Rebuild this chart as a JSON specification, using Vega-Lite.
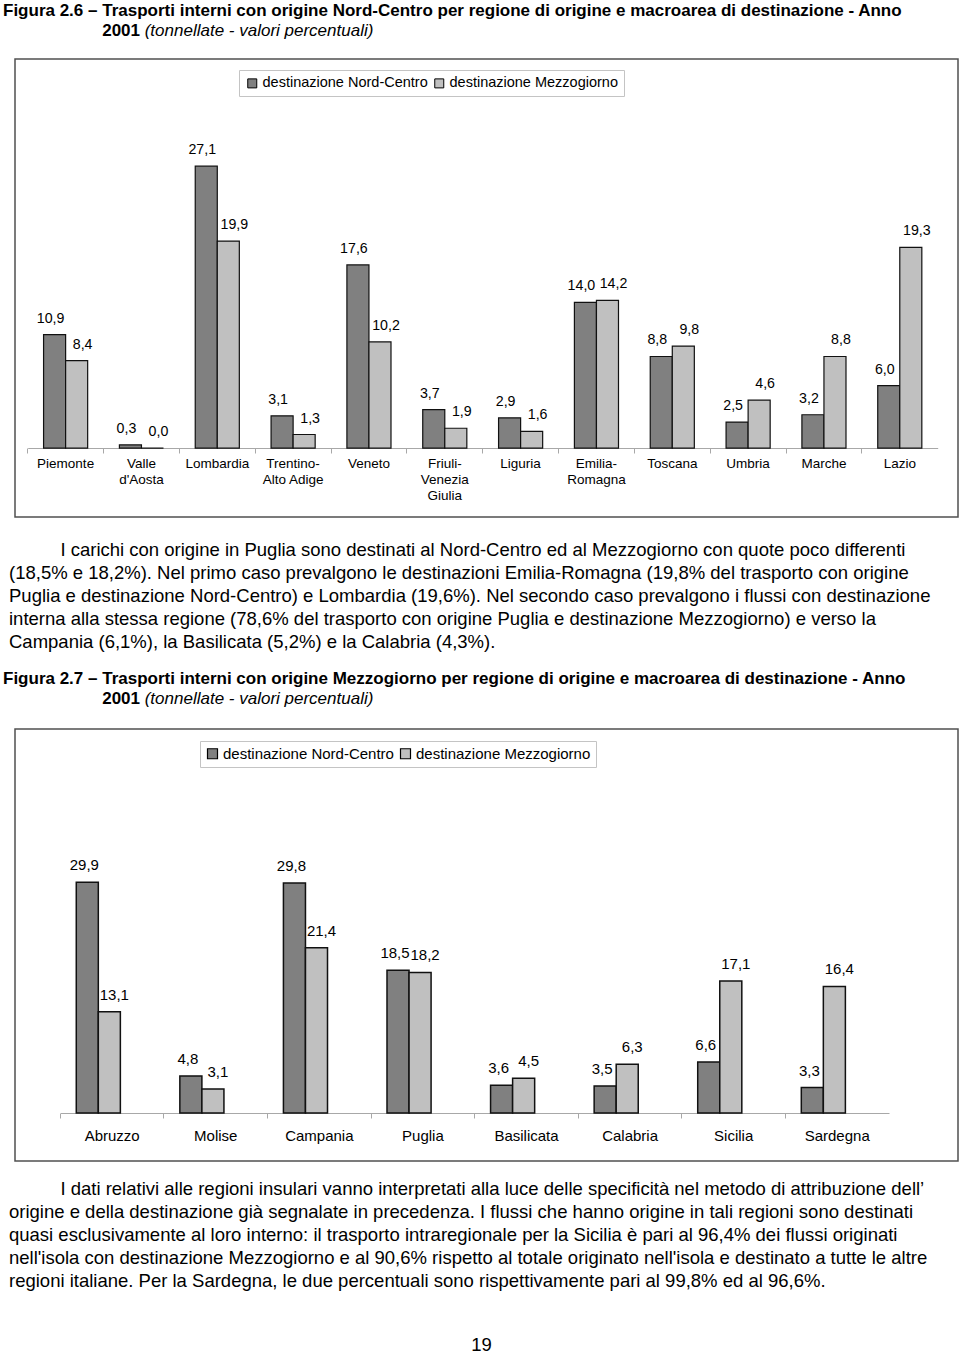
{
  "$schema": "https://vega.github.io/schema/vega-lite/v6.json",
  "background": "white",
  "padding": {"left": 2, "top": 0, "right": 0, "bottom": 0},
  "spacing": 0,
  "resolve": {"scale": {"color": "independent"}, "legend": {"color": "independent"}},
  "config": {
    "font": "Liberation Sans",
    "view": {"stroke": null},
    "locale": {"number": {"decimal": ",", "thousands": ".", "grouping": [3], "currency": ["", " €"]}},
    "title": {"color": "black", "subtitleColor": "black", "anchor": "start"}
  },
  "vconcat": [
    {
      "width": 943,
      "height": 458,
      "view": {"stroke": "#505050", "strokeWidth": 1.5},
      "title": {
        "text": ["Figura 2.6 – Trasporti interni con origine Nord-Centro per regione di origine e macroarea di destinazione - Anno", "\u200b\u00a0\u00a0\u00a0\u00a0\u00a0\u00a0\u00a0\u00a0\u00a0\u00a0\u00a0\u00a0\u00a0\u00a0\u00a0\u00a0\u00a0\u00a0\u00a0\u00a0\u00a02001"],
        "subtitle": "\u200b\u00a0\u00a0\u00a0\u00a0\u00a0\u00a0\u00a0\u00a0\u00a0\u00a0\u00a0\u00a0\u00a0\u00a0\u00a0\u00a0\u00a0\u00a0\u00a0\u00a0\u00a0\u00a0\u00a0\u00a0\u00a0\u00a0\u00a0\u00a0\u00a0\u00a0(tonnellate - valori percentuali)",
        "fontSize": 17, "fontWeight": "bold", "lineHeight": 20.5,
        "subtitleFontSize": 17, "subtitleFontStyle": "italic", "subtitleFontWeight": "normal",
        "subtitlePadding": -17, "dx": -12, "offset": 19
      },
      "data": {"values": [
        {"regione": "Piemonte", "dest": "destinazione Nord-Centro", "v": 10.9},
        {"regione": "Piemonte", "dest": "destinazione Mezzogiorno", "v": 8.4},
        {"regione": "Valle|d'Aosta", "dest": "destinazione Nord-Centro", "v": 0.3},
        {"regione": "Valle|d'Aosta", "dest": "destinazione Mezzogiorno", "v": 0.0},
        {"regione": "Lombardia", "dest": "destinazione Nord-Centro", "v": 27.1},
        {"regione": "Lombardia", "dest": "destinazione Mezzogiorno", "v": 19.9},
        {"regione": "Trentino-|Alto Adige", "dest": "destinazione Nord-Centro", "v": 3.1},
        {"regione": "Trentino-|Alto Adige", "dest": "destinazione Mezzogiorno", "v": 1.3},
        {"regione": "Veneto", "dest": "destinazione Nord-Centro", "v": 17.6},
        {"regione": "Veneto", "dest": "destinazione Mezzogiorno", "v": 10.2},
        {"regione": "Friuli-|Venezia|Giulia", "dest": "destinazione Nord-Centro", "v": 3.7},
        {"regione": "Friuli-|Venezia|Giulia", "dest": "destinazione Mezzogiorno", "v": 1.9},
        {"regione": "Liguria", "dest": "destinazione Nord-Centro", "v": 2.9},
        {"regione": "Liguria", "dest": "destinazione Mezzogiorno", "v": 1.6},
        {"regione": "Emilia-|Romagna", "dest": "destinazione Nord-Centro", "v": 14.0},
        {"regione": "Emilia-|Romagna", "dest": "destinazione Mezzogiorno", "v": 14.2},
        {"regione": "Toscana", "dest": "destinazione Nord-Centro", "v": 8.8},
        {"regione": "Toscana", "dest": "destinazione Mezzogiorno", "v": 9.8},
        {"regione": "Umbria", "dest": "destinazione Nord-Centro", "v": 2.5},
        {"regione": "Umbria", "dest": "destinazione Mezzogiorno", "v": 4.6},
        {"regione": "Marche", "dest": "destinazione Nord-Centro", "v": 3.2},
        {"regione": "Marche", "dest": "destinazione Mezzogiorno", "v": 8.8},
        {"regione": "Lazio", "dest": "destinazione Nord-Centro", "v": 6.0},
        {"regione": "Lazio", "dest": "destinazione Mezzogiorno", "v": 19.3}
      ]},
      "encoding": {
        "x": {
          "field": "regione", "type": "nominal", "sort": null, "title": null,
          "scale": {"range": [12.7, 922.7], "paddingInner": 0, "paddingOuter": 0},
          "axis": {
            "orient": "bottom", "offset": -69, "domainColor": "#a8a8a8", "tickColor": "#a8a8a8",
            "tickSize": 5, "bandPosition": 0, "labelAngle": 0,
            "labelColor": "black", "labelFontSize": 13.5, "labelLineHeight": 16, "labelPadding": 3,
            "labelExpr": "split(datum.label, '|')", "labelOverlap": false, "labelBound": false, "labelFlush": false
          }
        },
        "xOffset": {
          "field": "dest", "type": "nominal",
          "scale": {"domain": ["destinazione Nord-Centro", "destinazione Mezzogiorno"], "paddingInner": 0, "paddingOuter": 0.72}
        },
        "y": {
          "field": "v", "type": "quantitative", "stack": null, "axis": null,
          "scale": {"domain": [-6.63, 37.4], "nice": false, "zero": false}
        }
      },
      "layer": [
        {
          "mark": {"type": "bar", "stroke": "#111111", "strokeWidth": 1.2},
          "encoding": {
            "y2": {"datum": 0},
            "color": {
              "field": "dest", "type": "nominal",
              "scale": {"domain": ["destinazione Nord-Centro", "destinazione Mezzogiorno"], "range": ["#808080", "#c0c0c0"]},
              "legend": {
                "title": null, "orient": "none", "legendX": 224, "legendY": 11, "direction": "horizontal",
                "strokeColor": "#c4c4c4", "padding": 6, "labelFontSize": 14.5, "labelColor": "black", "labelLimit": 0,
                "labelOffset": 3, "columnPadding": 4, "symbolType": "square", "symbolSize": 81,
                "symbolStrokeColor": "black", "symbolStrokeWidth": 1
              }
            }
          }
        },
        {
          "transform": [{"filter": "datum.dest == 'destinazione Nord-Centro'"}],
          "mark": {"type": "text", "baseline": "bottom", "dy": -9, "dx": -4, "fontSize": 14.2, "color": "black"},
          "encoding": {"text": {"field": "v", "type": "quantitative", "format": ".1f"}}
        },
        {
          "transform": [{"filter": "datum.dest == 'destinazione Mezzogiorno'"}],
          "mark": {"type": "text", "baseline": "bottom", "dy": -9, "dx": 6, "fontSize": 14.2, "color": "black"},
          "encoding": {"text": {"field": "v", "type": "quantitative", "format": ".1f"}}
        }
      ]
    },
    {
      "width": 943,
      "height": 1,
      "data": {"values": []},
      "mark": "point",
      "title": {
        "orient": "bottom", "anchor": "start", "dx": -6, "offset": 21.5,
        "fontSize": 18.5, "fontWeight": "normal", "lineHeight": 23,
        "text": [
          "\u200b\u00a0\u00a0\u00a0\u00a0\u00a0\u00a0\u00a0\u00a0\u00a0\u00a0I carichi con origine in Puglia sono destinati al Nord-Centro ed al Mezzogiorno con quote poco differenti",
          "(18,5% e 18,2%). Nel primo caso prevalgono le destinazioni Emilia-Romagna (19,8% del trasporto con origine",
          "Puglia e destinazione Nord-Centro) e Lombardia (19,6%). Nel secondo caso prevalgono i flussi con destinazione",
          "interna alla stessa regione (78,6% del trasporto con origine Puglia e destinazione Mezzogiorno) e verso la",
          "Campania (6,1%), la Basilicata (5,2%) e la Calabria (4,3%)."
        ]
      }
    },
    {
      "width": 943,
      "height": 17,
      "data": {"values": []},
      "mark": "point"
    },
    {
      "width": 943,
      "height": 432,
      "view": {"stroke": "#505050", "strokeWidth": 1.5},
      "title": {
        "text": ["Figura 2.7 – Trasporti interni con origine Mezzogiorno per regione di origine e macroarea di destinazione - Anno", "\u200b\u00a0\u00a0\u00a0\u00a0\u00a0\u00a0\u00a0\u00a0\u00a0\u00a0\u00a0\u00a0\u00a0\u00a0\u00a0\u00a0\u00a0\u00a0\u00a0\u00a0\u00a02001"],
        "subtitle": "\u200b\u00a0\u00a0\u00a0\u00a0\u00a0\u00a0\u00a0\u00a0\u00a0\u00a0\u00a0\u00a0\u00a0\u00a0\u00a0\u00a0\u00a0\u00a0\u00a0\u00a0\u00a0\u00a0\u00a0\u00a0\u00a0\u00a0\u00a0\u00a0\u00a0\u00a0(tonnellate - valori percentuali)",
        "fontSize": 17, "fontWeight": "bold", "lineHeight": 20.5,
        "subtitleFontSize": 17, "subtitleFontStyle": "italic", "subtitleFontWeight": "normal",
        "subtitlePadding": -17, "dx": -12, "offset": 21
      },
      "data": {"values": [
        {"regione": "Abruzzo", "dest": "destinazione Nord-Centro", "v": 29.9},
        {"regione": "Abruzzo", "dest": "destinazione Mezzogiorno", "v": 13.1},
        {"regione": "Molise", "dest": "destinazione Nord-Centro", "v": 4.8},
        {"regione": "Molise", "dest": "destinazione Mezzogiorno", "v": 3.1},
        {"regione": "Campania", "dest": "destinazione Nord-Centro", "v": 29.8},
        {"regione": "Campania", "dest": "destinazione Mezzogiorno", "v": 21.4},
        {"regione": "Puglia", "dest": "destinazione Nord-Centro", "v": 18.5},
        {"regione": "Puglia", "dest": "destinazione Mezzogiorno", "v": 18.2},
        {"regione": "Basilicata", "dest": "destinazione Nord-Centro", "v": 3.6},
        {"regione": "Basilicata", "dest": "destinazione Mezzogiorno", "v": 4.5},
        {"regione": "Calabria", "dest": "destinazione Nord-Centro", "v": 3.5},
        {"regione": "Calabria", "dest": "destinazione Mezzogiorno", "v": 6.3},
        {"regione": "Sicilia", "dest": "destinazione Nord-Centro", "v": 6.6},
        {"regione": "Sicilia", "dest": "destinazione Mezzogiorno", "v": 17.1},
        {"regione": "Sardegna", "dest": "destinazione Nord-Centro", "v": 3.3},
        {"regione": "Sardegna", "dest": "destinazione Mezzogiorno", "v": 16.4}
      ]},
      "encoding": {
        "x": {
          "field": "regione", "type": "nominal", "sort": null, "title": null,
          "scale": {"range": [45.4, 874], "paddingInner": 0, "paddingOuter": 0},
          "axis": {
            "orient": "bottom", "offset": -48, "domainColor": "#a8a8a8", "tickColor": "#a8a8a8",
            "tickSize": 5, "bandPosition": 0, "labelAngle": 0,
            "labelColor": "black", "labelFontSize": 15, "labelPadding": 10,
            "labelOverlap": false, "labelBound": false, "labelFlush": false
          }
        },
        "xOffset": {
          "field": "dest", "type": "nominal",
          "scale": {"domain": ["destinazione Nord-Centro", "destinazione Mezzogiorno"], "paddingInner": 0, "paddingOuter": 0.727}
        },
        "y": {
          "field": "v", "type": "quantitative", "stack": null, "axis": null,
          "scale": {"domain": [-6.22, 49.74], "nice": false, "zero": false}
        }
      },
      "layer": [
        {
          "mark": {"type": "bar", "stroke": "#111111", "strokeWidth": 1.5},
          "encoding": {
            "y2": {"datum": 0},
            "color": {
              "field": "dest", "type": "nominal",
              "scale": {"domain": ["destinazione Nord-Centro", "destinazione Mezzogiorno"], "range": ["#808080", "#c0c0c0"]},
              "legend": {
                "title": null, "orient": "none", "legendX": 185, "legendY": 12, "direction": "horizontal",
                "strokeColor": "#c4c4c4", "padding": 5, "labelFontSize": 15, "labelColor": "black", "labelLimit": 0,
                "labelOffset": 3, "columnPadding": 4, "symbolType": "square", "symbolSize": 100,
                "symbolStrokeColor": "black", "symbolStrokeWidth": 1.2
              }
            }
          }
        },
        {
          "transform": [{"filter": "datum.dest == 'destinazione Nord-Centro'"}],
          "mark": {"type": "text", "baseline": "bottom", "dy": -9, "dx": -3, "fontSize": 15, "color": "black"},
          "encoding": {"text": {"field": "v", "type": "quantitative", "format": ".1f"}}
        },
        {
          "transform": [{"filter": "datum.dest == 'destinazione Mezzogiorno'"}],
          "mark": {"type": "text", "baseline": "bottom", "dy": -9, "dx": 5, "fontSize": 15, "color": "black"},
          "encoding": {"text": {"field": "v", "type": "quantitative", "format": ".1f"}}
        }
      ]
    },
    {
      "width": 943,
      "height": 1,
      "data": {"values": []},
      "mark": "point",
      "title": {
        "orient": "bottom", "anchor": "start", "dx": -6, "offset": 16.5,
        "fontSize": 18.5, "fontWeight": "normal", "lineHeight": 23,
        "text": [
          "\u200b\u00a0\u00a0\u00a0\u00a0\u00a0\u00a0\u00a0\u00a0\u00a0\u00a0I dati relativi alle regioni insulari vanno interpretati alla luce delle specificità nel metodo di attribuzione dell’",
          "origine e della destinazione già segnalate in precedenza. I flussi che hanno origine in tali regioni sono destinati",
          "quasi esclusivamente al loro interno: il trasporto intraregionale per la Sicilia è pari al 96,4% dei flussi originati",
          "nell'isola con destinazione Mezzogiorno e al 90,6% rispetto al totale originato nell'isola e destinato a tutte le altre",
          "regioni italiane. Per la Sardegna, le due percentuali sono rispettivamente pari al 99,8% ed al 96,6%."
        ]
      }
    },
    {
      "width": 943,
      "height": 1,
      "data": {"values": []},
      "mark": "point",
      "title": {
        "orient": "bottom", "anchor": "middle", "dx": -5, "offset": 45,
        "fontSize": 18.5, "fontWeight": "normal", "text": "19"
      }
    }
  ]
}
